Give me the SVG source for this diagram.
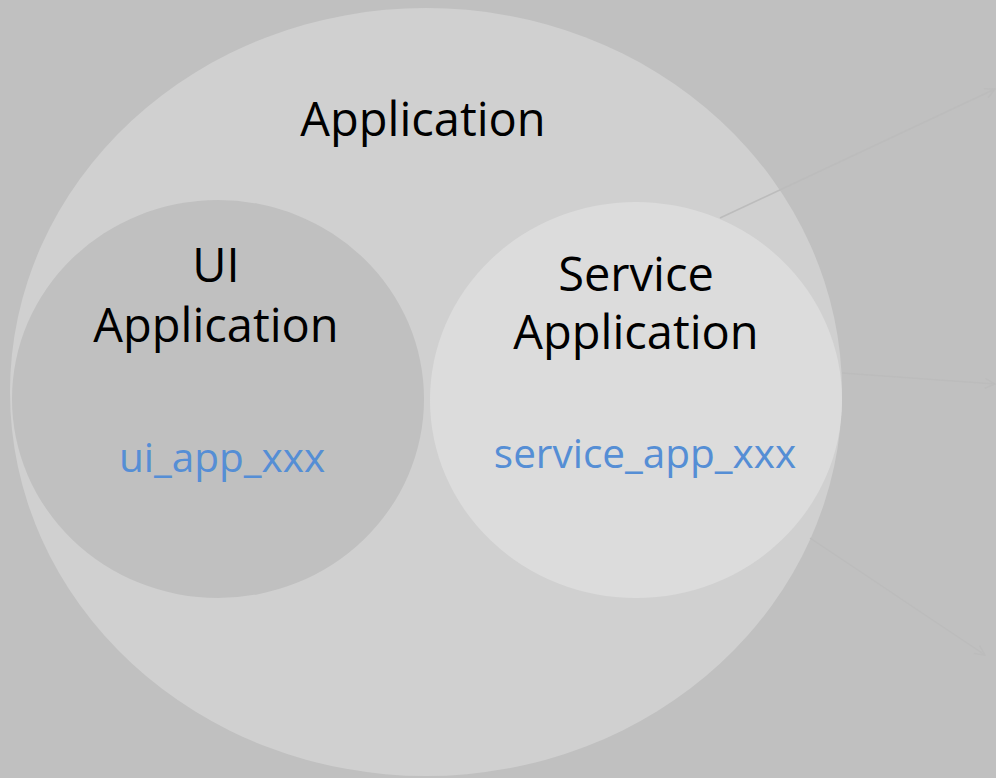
<svg xmlns="http://www.w3.org/2000/svg" width="996" height="778" viewBox="0 0 996 778">
<style>
.lbl{font-family:"Open Sans","Noto Sans","DejaVu Sans",sans-serif;font-size:47px;fill:#000;text-anchor:middle}
.id{font-family:"Open Sans","Noto Sans","DejaVu Sans",sans-serif;font-size:40.5px;fill:#558ed5;text-anchor:middle}
.conn{stroke:#bcbcbc;stroke-width:1.5;fill:none}
</style>
<defs>
<marker id="ah" viewBox="0 0 12 12" refX="11" refY="6" markerWidth="12" markerHeight="12" markerUnits="userSpaceOnUse" orient="auto">
<path d="M1,1 L11,6 L1,11" fill="none" stroke="#bcbcbc" stroke-width="1.5"/>
</marker>
</defs>
<rect width="996" height="778" fill="#c0c0c0"/>
<g id="application">
<ellipse cx="426" cy="392" rx="416" ry="384" fill="#d0d0d0"/>
<text class="lbl" x="423" y="136">Application</text>
</g>
<g id="ui-application">
<ellipse cx="218" cy="399" rx="206" ry="199" fill="#c0c0c0"/>
<text class="lbl" x="216" y="282">UI</text>
<text class="lbl" x="216" y="342">Application</text>
<text class="id" x="222" y="472">ui_app_xxx</text>
</g>
<g id="service-application">
<ellipse cx="636" cy="400" rx="206" ry="198" fill="#dcdcdc"/>
<text class="lbl" x="636" y="291">Service</text>
<text class="lbl" x="636" y="349">Application</text>
<text class="id" x="645" y="468">service_app_xxx</text>
</g>
<g id="connectors">
<line class="conn" x1="720" y1="218" x2="995" y2="89" marker-end="url(#ah)"/>
<line class="conn" x1="842" y1="373" x2="995" y2="384" marker-end="url(#ah)"/>
<line class="conn" x1="810" y1="538" x2="985" y2="655" marker-end="url(#ah)"/>
</g>
</svg>
